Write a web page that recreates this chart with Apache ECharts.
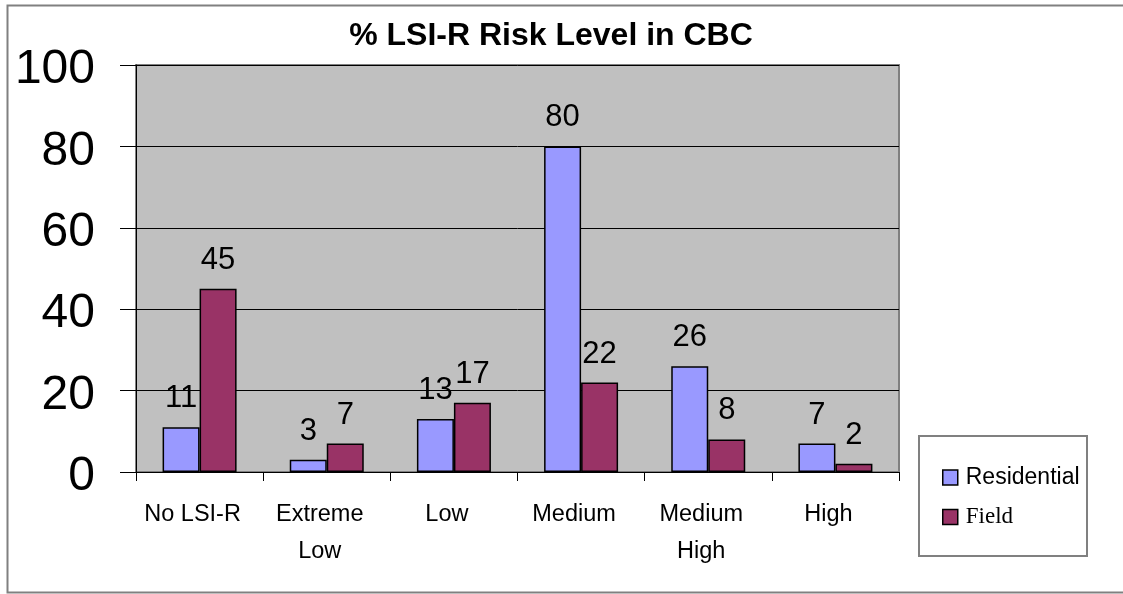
<!DOCTYPE html>
<html>
<head>
<meta charset="utf-8">
<script src="https://cdn.jsdelivr.net/npm/echarts@6/dist/echarts.min.js"></script>
<style>
  html, body { margin: 0; padding: 0; background: #fff; }
  #chart { width: 1123px; height: 594px; }
</style>
</head>
<body>
<div id="chart"></div>
<script>
  var categories = ['No LSI-R', 'Extreme\nLow', 'Low', 'Medium', 'Medium\nHigh', 'High'];
  var residential = [11, 3, 13, 80, 26, 7];
  var field = [45, 7, 17, 22, 8, 2];
  var yTicks = [0, 20, 40, 60, 80, 100];

  var myChart = echarts.init(document.getElementById('chart'));
  myChart.setOption({
    animation: false,
    title: {
      text: '% LSI-R Risk Level in CBC',
      left: 546,
      top: 15,
      textAlign: 'center',
      textStyle: { fontFamily: 'Liberation Sans, Arial', fontSize: 32, fontWeight: 'bold', color: '#000' }
    },
    graphic: [
      // outer frame
      { type: 'rect', left: 5, top: 3, shape: { width: 1130, height: 587 },
        style: { fill: 'none', stroke: '#808080', lineWidth: 2 }, z: -1 },
      // legend box
      { type: 'rect', left: 918, top: 435, shape: { width: 168, height: 120 },
        style: { fill: '#fff', stroke: '#808080', lineWidth: 2 }, z: 1 }
    ],
    legend: {
      orient: 'vertical',
      left: 937,
      top: 461,
      itemWidth: 15,
      itemHeight: 15,
      itemGap: 9,
      icon: 'rect',
      z: 5,
      itemStyle: { borderColor: '#000', borderWidth: 1.5 },
      textStyle: { fontFamily: 'Liberation Sans, Arial', fontSize: 23, color: '#000', lineHeight: 23, padding: [0, 0, 0, 3] },
      data: [
        { name: 'Residential' },
        { name: 'Field', textStyle: { fontFamily: 'Liberation Serif, Times New Roman', fontSize: 23, padding: [15, 0, 0, 3] } }
      ]
    },
    grid: {
      left: 136,
      right: 224,
      top: 65,
      bottom: 122,
      show: true,
      backgroundColor: '#C0C0C0',
      borderColor: '#808080',
      borderWidth: 2
    },
    xAxis: {
      type: 'category',
      data: categories,
      axisLine: { lineStyle: { color: '#000', width: 1 } },
      axisTick: { show: true, length: 9, lineStyle: { color: '#000' } },
      axisLabel: {
        fontFamily: 'Liberation Sans, Arial',
        fontSize: 23.5,
        lineHeight: 37,
        color: '#000',
        margin: 24,
        padding: [0, 14, 0, 0],
        interval: 0
      }
    },
    yAxis: {
      type: 'value',
      min: yTicks[0],
      max: yTicks[yTicks.length - 1],
      interval: 20,
      axisLine: { show: true, lineStyle: { color: '#000', width: 1 } },
      axisTick: { show: true, length: 16, lineStyle: { color: '#000' } },
      splitLine: { lineStyle: { color: '#000', width: 1 } },
      axisLabel: {
        color: '#000',
        margin: 41,
        formatter: '{a|{value}}',
        rich: {
          a: { fontFamily: 'Liberation Sans, Arial', fontSize: 48, color: '#000', padding: [10, 0, 0, 0] }
        }
      }
    },
    series: [
      {
        name: 'Residential',
        type: 'bar',
        data: residential,
        barWidth: 37,
        barGap: '0%',
        itemStyle: { color: '#9999FF', borderColor: '#000', borderWidth: 1.5 },
        label: { show: true, position: 'top', distance: 13, fontFamily: 'Liberation Sans, Arial', fontSize: 31, color: '#000' }
      },
      {
        name: 'Field',
        type: 'bar',
        data: field,
        barWidth: 37,
        barGap: '0%',
        itemStyle: { color: '#993366', borderColor: '#000', borderWidth: 1.5 },
        label: { show: true, position: 'top', distance: 13, fontFamily: 'Liberation Sans, Arial', fontSize: 31, color: '#000' }
      }
    ]
  });
</script>
</body>
</html>
